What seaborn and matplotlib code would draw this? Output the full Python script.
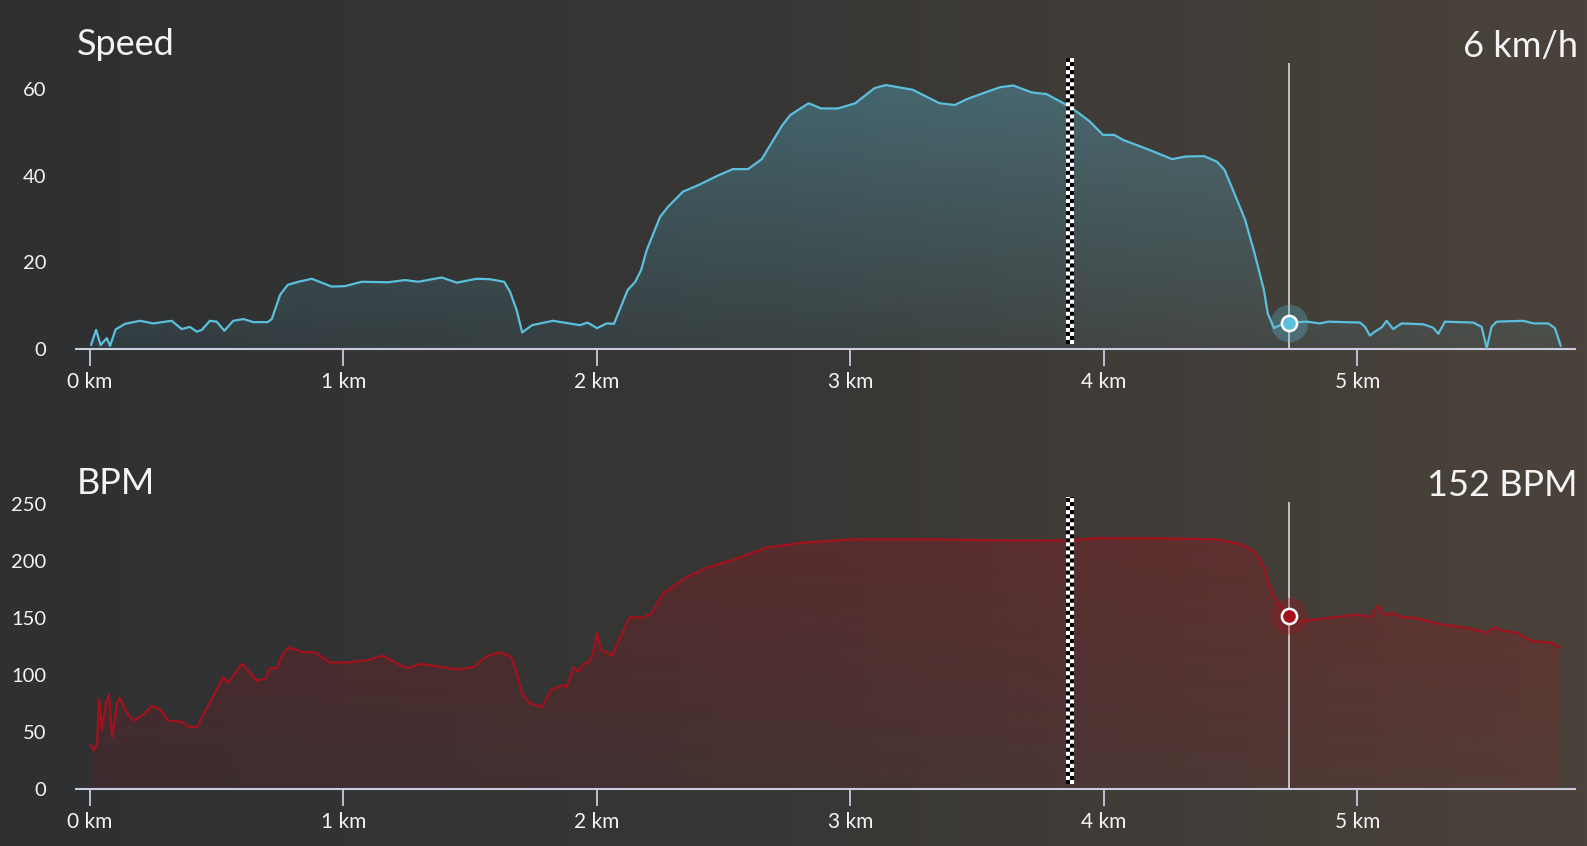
import numpy as np
import pandas as pd
import matplotlib
matplotlib.use("Agg")
import matplotlib.pyplot as plt
import seaborn as sns
from matplotlib.colors import LinearSegmentedColormap, to_rgb
from matplotlib.transforms import ScaledTranslation

# speed profile (km, km/h)
speed_km = [0.004, 0.024, 0.042, 0.066, 0.079, 0.101, 0.138, 0.197, 0.250, 0.322, 0.362, 0.394,
            0.421, 0.441, 0.473, 0.500, 0.530, 0.565, 0.605, 0.644, 0.701, 0.717, 0.750, 0.780,
            0.822, 0.875, 0.953, 1.006, 1.072, 1.177, 1.243, 1.295, 1.387, 1.447, 1.525, 1.578,
            1.634, 1.657, 1.683, 1.705, 1.744, 1.826, 1.933, 1.963, 2.000, 2.038, 2.067, 2.121,
            2.151, 2.174, 2.196, 2.249, 2.280, 2.339, 2.400, 2.476, 2.536, 2.596, 2.650, 2.732,
            2.763, 2.835, 2.884, 2.951, 3.019, 3.095, 3.140, 3.246, 3.351, 3.412, 3.457, 3.532,
            3.590, 3.642, 3.715, 3.774, 3.853, 3.892, 3.944, 3.996, 4.040, 4.077, 4.181, 4.269,
            4.321, 4.395, 4.446, 4.476, 4.520, 4.557, 4.594, 4.631, 4.646, 4.671, 4.705, 4.731,
            4.800, 4.852, 4.885, 5.010, 5.030, 5.049, 5.069, 5.096, 5.115, 5.141, 5.174, 5.260,
            5.299, 5.319, 5.345, 5.457, 5.490, 5.510, 5.529, 5.549, 5.654, 5.694, 5.753, 5.779,
            5.802]
speed_kmh = [0.9, 4.4, 0.9, 2.5, 0.7, 4.5, 5.8, 6.5, 5.9, 6.5, 4.6, 5.1,
             4.0, 4.4, 6.5, 6.3, 4.2, 6.5, 6.9, 6.2, 6.2, 6.9, 12.5, 14.8,
             15.5, 16.2, 14.4, 14.5, 15.5, 15.4, 15.9, 15.5, 16.5, 15.3, 16.2, 16.1,
             15.5, 13.2, 9.0, 3.8, 5.5, 6.5, 5.5, 6.1, 4.8, 5.9, 5.8, 13.6,
             15.5, 18.2, 22.8, 30.5, 32.8, 36.3, 37.8, 40.0, 41.5, 41.5, 43.8, 51.7,
             54.0, 56.7, 55.5, 55.5, 56.7, 60.2, 60.9, 59.8, 56.7, 56.3, 57.6, 59.2,
             60.4, 60.8, 59.2, 58.8, 56.3, 54.8, 52.5, 49.4, 49.4, 48.2, 45.9, 43.8,
             44.4, 44.5, 43.2, 41.3, 35.1, 29.8, 22.1, 13.6, 8.2, 4.8, 5.8, 6.1,
             6.3, 5.9, 6.3, 6.1, 5.1, 3.1, 4.0, 5.0, 6.5, 4.6, 5.9, 5.7,
             4.9, 3.5, 6.3, 6.1, 5.1, 0.2, 5.1, 6.3, 6.5, 5.9, 5.9, 4.8,
             0.7]

# heart rate profile (km, bpm)
bpm_km = [0.003, 0.016, 0.028, 0.036, 0.047, 0.063, 0.075, 0.087, 0.107, 0.118, 0.146, 0.170,
          0.209, 0.245, 0.276, 0.308, 0.363, 0.383, 0.422, 0.446, 0.485, 0.525, 0.544, 0.600,
          0.623, 0.659, 0.690, 0.710, 0.738, 0.757, 0.781, 0.801, 0.840, 0.888, 0.947, 1.014,
          1.093, 1.156, 1.211, 1.254, 1.306, 1.357, 1.448, 1.511, 1.570, 1.617, 1.661, 1.684,
          1.704, 1.736, 1.783, 1.819, 1.866, 1.878, 1.909, 1.925, 1.949, 1.968, 1.984, 2.000,
          2.016, 2.039, 2.059, 2.091, 2.130, 2.174, 2.213, 2.264, 2.355, 2.430, 2.536, 2.671,
          2.809, 3.006, 3.187, 3.337, 3.590, 3.842, 3.972, 4.181, 4.446, 4.536, 4.596, 4.631,
          4.655, 4.682, 4.730, 4.773, 4.844, 4.994, 5.053, 5.081, 5.105, 5.140, 5.172, 5.231,
          5.318, 5.436, 5.511, 5.538, 5.570, 5.629, 5.688, 5.732, 5.773, 5.799]
bpm_vals = [39, 34, 40, 79, 52, 75, 83, 45, 75, 80, 67, 60,
            65, 73, 70, 60, 59, 55, 54, 65, 81, 98, 93, 110,
            104, 95, 97, 106, 106, 117, 124, 123, 120, 120, 111, 111,
            113, 117, 110, 106, 110, 108, 105, 107, 117, 120, 116, 102,
            84, 75, 72, 87, 91, 89, 107, 103, 110, 111, 119, 137,
            122, 120, 117, 133, 151, 150, 154, 172, 186, 194, 201, 212,
            216, 219, 219, 219, 218, 218, 220, 220, 219, 215, 208, 195,
            177, 164, 152, 147, 149, 153, 151, 161, 153, 154, 151, 150,
            145, 141, 137, 142, 139, 137, 130, 129, 128, 124]

tick_km = [0, 1, 2, 3, 4, 5]
tick_labels = ["0 km", "1 km", "2 km", "3 km", "4 km", "5 km"]
speed_ticks = [0, 20, 40, 60]
bpm_ticks = [0, 50, 100, 150, 200, 250]

cursor_km = 4.73
cursor_speed = 6
cursor_bpm = 152
finish_km = 3.866

speed_df = pd.DataFrame({"km": speed_km, "speed": speed_kmh})
bpm_df = pd.DataFrame({"km": bpm_km, "bpm": bpm_vals})

sns.set_theme(style="dark")
plt.rcParams["font.family"] = ["Lato", "DejaVu Sans"]

fig = plt.figure(figsize=(15.87, 8.46), dpi=100)

# background gradient
bg = fig.add_axes([0, 0, 1, 1], zorder=0)
bg_cmap = LinearSegmentedColormap.from_list("bg", ["#2e3032", "#383735", "#4b433b"])
bg.imshow(np.linspace(0, 1, 256)[None, :], cmap=bg_cmap, aspect="auto", extent=[0, 1, 0, 1])
bg.axis("off")

spine_col = "#c9cbdf"
text_col = "#f4f4f4"
xlim = (-0.0552, 5.858)


def panel(rect, df, col, color, ylim, yticks, cur_val, title, value_text, a_top, a_bot):
    ax = fig.add_axes(rect, zorder=1)
    ax.set_facecolor("none")

    # gradient fill under the curve
    poly = ax.fill_between(df["km"], df[col], 0, color="none", lw=0)
    grad = np.zeros((256, 1, 4))
    grad[..., :3] = to_rgb(color)
    grad[:, 0, 3] = np.linspace(a_top, a_bot, 256)
    im = ax.imshow(grad, extent=[df["km"].min(), df["km"].max(), 0, ylim[1]],
                   aspect="auto", origin="upper", zorder=2)
    im.set_clip_path(poly.get_paths()[0], transform=ax.transData)

    sns.lineplot(data=df, x="km", y=col, color=color, lw=1.6, ax=ax, zorder=3)

    # current position marker
    ax.axvline(cursor_km, color="#d8d8d8", lw=1.2, zorder=4)
    sns.scatterplot(x=[cursor_km], y=[cur_val], s=720, color=color, alpha=0.3,
                    linewidth=0, ax=ax, zorder=5)
    sns.scatterplot(x=[cursor_km], y=[cur_val], s=120, color=color, edgecolor="white",
                    linewidth=1.8, ax=ax, zorder=6)

    # checkered finish line
    base = ax.get_xaxis_transform()
    ax.plot([finish_km, finish_km], [0.017, 1.017], transform=base, color="white",
            lw=5.8, solid_capstyle="butt", clip_on=False, zorder=7, scalex=False, scaley=False)
    for dx, off in [(-1.45, 0), (1.45, 1)]:
        ax.plot([finish_km, finish_km], [0.017, 1.017],
                transform=base + ScaledTranslation(dx / 72, 0, fig.dpi_scale_trans),
                color="black", lw=2.9, linestyle=(off, (1, 1)), dash_capstyle="butt",
                clip_on=False, zorder=8, scalex=False, scaley=False)

    ax.set_xlim(*xlim)
    ax.set_ylim(*ylim)
    ax.set_xticks(tick_km, tick_labels)
    ax.set_yticks(yticks)
    ax.set_xlabel("")
    ax.set_ylabel("")
    ax.grid(False)
    for s in ["top", "left", "right"]:
        ax.spines[s].set_visible(False)
    ax.spines["bottom"].set_color(spine_col)
    ax.spines["bottom"].set_linewidth(1.5)
    ax.tick_params(axis="x", length=12, width=1.3, color=spine_col, labelcolor=text_col,
                   labelsize=15, pad=4.5, bottom=True)
    ax.tick_params(axis="y", length=0, labelcolor=text_col, labelsize=14.5, pad=21.6)

    top = rect[1] + rect[3]
    fig.text(0.0485, top + 0.009, title, color=text_col, fontsize=26, va="baseline")
    fig.text(0.9943, top + 0.007, value_text, color=text_col, fontsize=26,
             va="baseline", ha="right")
    return ax


panel([0.0479, 0.5875, 0.9445, 0.3381], speed_df, "speed", "#5bc0de", (0, 66),
      speed_ticks, cursor_speed, "Speed", f"{cursor_speed} km/h", 0.36, 0.08)
panel([0.0479, 0.0674, 0.9445, 0.3392], bpm_df, "bpm", "#a3121c", (0, 251.8),
      bpm_ticks, cursor_bpm, "BPM", f"{cursor_bpm} BPM", 0.32, 0.12)

fig.savefig("out.png", dpi=100)
